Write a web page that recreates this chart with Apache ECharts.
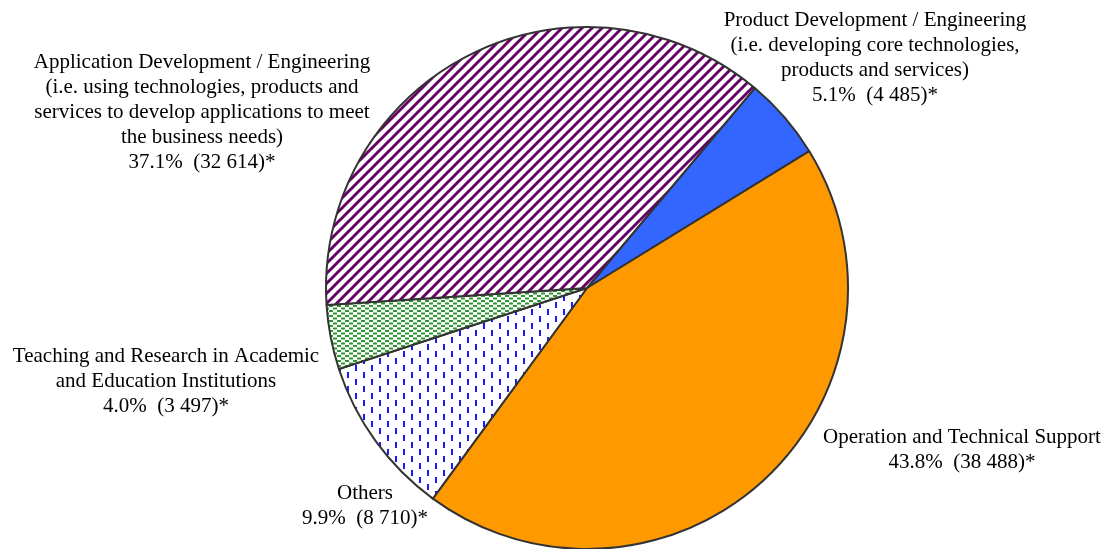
<!DOCTYPE html>
<html style="height: 100%; width: 100%;">
<head>
    <meta charset="utf-8">
    <title>Job function distribution</title>
    <script type="text/javascript" src="https://cdn.jsdelivr.net/npm/echarts@6/dist/echarts.min.js"></script>
</head>
<body style="height: 100%; margin: 0; width: 100%; background: #fff;">
    <div id="chartContainer" style="width: 1110px; height: 549px;"></div>

    <script type="text/javascript">
        // slices, clockwise from the top right
        var categories = [
            'Product Development / Engineering\n(i.e. developing core technologies,\nproducts and services)',
            'Operation and Technical Support',
            'Others',
            'Teaching and Research in Academic\nand Education Institutions',
            'Application Development / Engineering\n(i.e. using technologies, products and\nservices to develop applications to meet\nthe business needs)'
        ];
        var counts = [4485, 38488, 8710, 3497, 32614];

        // where each label block is centred
        var labelPos = [[875, 58], [962, 450], [365, 506], [166, 381], [202, 112]];

        function makePattern(w, h, draw) {
            var c = document.createElement('canvas');
            c.width = w;
            c.height = h;
            var ctx = c.getContext('2d');
            ctx.fillStyle = '#ffffff';
            ctx.fillRect(0, 0, w, h);
            draw(ctx);
            return { image: c, repeat: 'repeat' };
        }

        var stripes = makePattern(10, 10, function (ctx) {
            ctx.strokeStyle = '#660066';
            ctx.lineWidth = 3;
            [-10, 0, 10].forEach(function (o) {
                ctx.beginPath();
                ctx.moveTo(o - 1, 11);
                ctx.lineTo(o + 11, -1);
                ctx.stroke();
            });
        });

        var greenDots = makePattern(8, 5, function (ctx) {
            ctx.fillStyle = '#2e962e';
            ctx.fillRect(1, 0, 4, 2);
            ctx.fillRect(5, 2.5, 3, 2);
            ctx.fillRect(0, 2.5, 1, 2);
        });

        var blueDashes = makePattern(16, 14, function (ctx) {
            ctx.fillStyle = '#1a1aff';
            ctx.fillRect(3, 1, 2, 6);
            ctx.fillRect(11, 8, 2, 6);
        });

        var sliceColors = ['#3366ff', '#ff9900', blueDashes, greenDots, stripes];

        var total = counts.reduce(function (a, b) { return a + b; }, 0);

        function fmtCount(v) {
            return String(v).replace(/\B(?=(\d{3})+(?!\d))/g, ' ');
        }

        var dom = document.getElementById('chartContainer');
        var myChart = echarts.init(dom, null, { renderer: 'canvas' });

        var option = {
            animation: false,
            series: [
                {
                    type: 'pie',
                    center: [587, 288],
                    radius: 261,
                    startAngle: 50,
                    clockwise: true,
                    avoidLabelOverlap: false,
                    data: categories.map(function (name, i) {
                        return {
                            name: name,
                            value: counts[i],
                            itemStyle: { color: sliceColors[i] }
                        };
                    }),
                    itemStyle: {
                        borderColor: '#333333',
                        borderWidth: 2
                    },
                    label: {
                        show: true,
                        position: 'outside',
                        color: '#000',
                        fontFamily: '"Liberation Serif", "Times New Roman", serif',
                        fontSize: 21,
                        lineHeight: 25,
                        align: 'center',
                        formatter: function (p) {
                            var pct = (counts[p.dataIndex] / total * 100).toFixed(1);
                            return p.name + '\n' + pct + '%  (' + fmtCount(counts[p.dataIndex]) + ')*';
                        }
                    },
                    labelLine: { show: false },
                    labelLayout: function (params) {
                        var pos = labelPos[params.dataIndex];
                        return {
                            x: pos[0],
                            y: pos[1],
                            align: 'center',
                            verticalAlign: 'middle'
                        };
                    },
                    emphasis: { scale: false }
                }
            ]
        };

        myChart.setOption(option);
    </script>
</body>
</html>
